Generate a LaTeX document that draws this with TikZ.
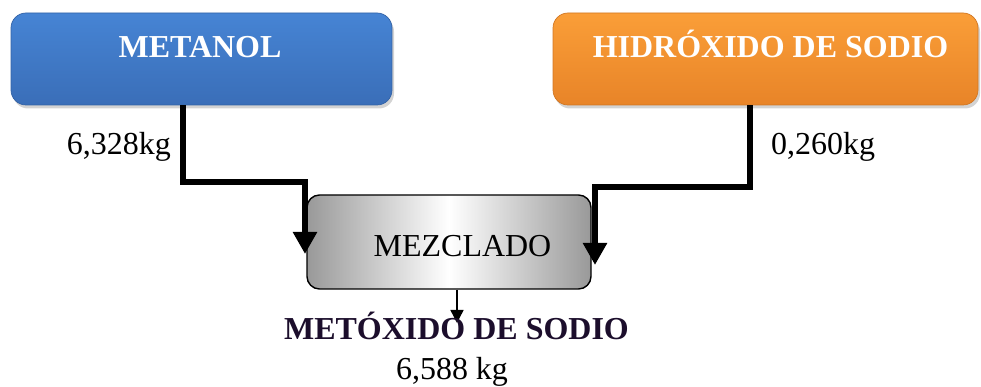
\documentclass[tikz,border=0pt]{standalone}
\usepackage{fontspec}
\setmainfont{Liberation Serif}
\usetikzlibrary{arrows.meta, shadows, positioning}
\definecolor{metblue}{RGB}{70,132,212}
\definecolor{metbluedark}{RGB}{58,110,184}
\definecolor{naorange}{RGB}{250,158,56}
\definecolor{naorangedark}{RGB}{232,132,40}
\definecolor{prodpurple}{RGB}{28,14,44}

\begin{document}
\begin{tikzpicture}[
		box/.style={rounded corners=0.3cm, minimum height=1.84cm, drop shadow={opacity=0.35, shadow xshift=0.04cm, shadow yshift=-0.07cm}},
		boxtext/.style={font=\fontsize{18.2}{22}\selectfont\bfseries, text=white, anchor=base},
		plain/.style={font=\fontsize{18.2}{22}\selectfont},
		flow/.style={line width=0.135cm, line join=miter, -{Triangle[width=0.46cm,length=0.44cm]}}
	]
		\useasboundingbox (0,0) rectangle (19.62,7.74);

		% Metanol
		\node[box, minimum width=7.62cm, top color=metblue, bottom color=metbluedark, draw=metbluedark!90!black] (metanol) at (4.03,6.56) {};
		\node[boxtext] (metanoltxt) at (4.0,6.58) {METANOL};

		% Hidroxido de sodio
		\node[box, minimum width=8.5cm, top color=naorange, bottom color=naorangedark, draw=naorangedark!90!black] (hidroxido) at (15.31,6.56) {};
		\node[boxtext] (hidroxidotxt) at (15.41,6.58) {HIDRÓXIDO DE SODIO};

		% Mezclado
		\node[draw, thick, rounded corners=0.25cm, minimum width=5.68cm, minimum height=1.88cm, left color=black!40, right color=black!40, middle color=white] (mezclado) at (8.98,2.9) {};
		\node[plain, anchor=base] (mezcladotxt) at (9.25,2.6) {MEZCLADO};

		% Flujos
		\coordinate (inA) at (6.1,2.66);
		\coordinate (inB) at (11.9,2.44);
		\coordinate (outC) at (9.14,1.28);
		\draw[flow] ([xshift=-0.37cm]metanol.south) |- ([yshift=1.44cm]inA) -- (inA);
		\draw[flow] ([xshift=-0.31cm]hidroxido.south) |- ([yshift=1.56cm]inB) -- (inB);
		\draw[thick, -{Triangle[width=0.26cm,length=0.26cm]}] ([xshift=0.16cm]mezclado.south) -- (outC);

		\node[plain, anchor=base east] (masaA) at (3.54,4.64) {6,328kg};
		\node[plain, anchor=base west] (masaB) at (15.3,4.64) {0,260kg};

		% Producto
		\node[font=\fontsize{18.2}{22}\selectfont\bfseries, text=prodpurple, anchor=base] (metoxido) at (9.13,0.94) {METÓXIDO DE SODIO};
		\node[plain, anchor=base] (masaC) at (9.04,0.14) {6,588 kg};
	\end{tikzpicture}
\end{document}
